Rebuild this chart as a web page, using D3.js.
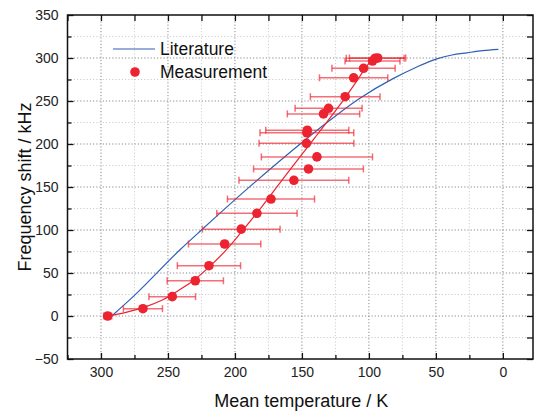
<!DOCTYPE html>
<html>
<head>
<meta charset="utf-8">
<script src="https://cdn.jsdelivr.net/npm/d3@7"></script>
<style>
  body { margin: 0; background: #fff; }
  svg { display: block; font-family: "Liberation Sans", Arial, sans-serif; }
  .grid-major { stroke: #8a8a8a; stroke-width: 1; stroke-dasharray: 1.2,2; }
  .grid-minor { stroke: #cfcfcf; stroke-width: 1; stroke-dasharray: 1.2,2; }
  .tick text { font-size: 14px; fill: #222; }
  .axis path { display: none; }
  .axis line { stroke: #111; stroke-width: 1.3; }
</style>
</head>
<body>
<svg width="534" height="412"></svg>
<script>
// measured points: mean temperature (K), frequency shift (kHz), x error (K)
var tempK = [295, 268.7, 246.8, 229.6, 219.4, 207.7, 195.3, 183.6, 173.1, 156, 145.1, 138.8,
             146.6, 146.3, 146.0, 133.9, 130.1, 117.7, 111.4, 104, 97.3, 95.3, 93.5];
var shiftKHz = [0, 8.5, 22.5, 41, 58.5, 83.7, 101, 119.4, 136, 157.8, 171, 185,
                200.8, 213, 216, 235, 241.5, 255, 277, 288, 296.5, 299.7, 300];
var tempErr = [3, 14.6, 17.4, 21, 23.6, 27, 29, 30, 32.5, 41, 41, 41.5,
               35.4, 35, 31, 27, 25, 26, 25.5, 23.6, 20.5, 21.6, 21];
var shiftErr = 3;

// fit through the measurements (red line)
var fitT = [295, 282, 268, 255, 245, 232, 220, 207, 195, 180, 160, 140, 120, 110, 104, 98, 92];
var fitF = [0, 4, 10, 18, 27, 40, 56, 76, 98, 127, 168, 208, 249, 271, 285, 297, 302];

// literature curve (blue)
var litT = [292, 275, 241, 225, 190, 149, 137, 107, 82, 65, 49.3, 38, 26.9, 15, 3.3];
var litF = [0, 24, 77, 100, 149, 203, 218, 253, 276, 289, 299, 303.5, 306, 308.5, 310];

var xMajor = [300, 250, 200, 150, 100, 50, 0];
var xMinor = [325, 275, 225, 175, 125, 75, 25];
var yMajor = [-50, 0, 50, 100, 150, 200, 250, 300, 350];
var yMinor = [-25, 25, 75, 125, 175, 225, 275, 325];

var svg = d3.select("svg"),
    pLeft = 67.5, pRight = 533, pTop = 15, pBottom = 359,
    red = "#ec2330",
    blue = "#2f5fb3";

var x = d3.scaleLinear().domain([325, -22.5]).range([pLeft, pRight]),
    y = d3.scaleLinear().domain([-50, 350]).range([pBottom, pTop]);

// grid
var grid = svg.append("g");
grid.selectAll(".gxm").data(xMinor.filter(function(d) { return d < 325; })).enter().append("line")
  .attr("class", "grid-minor")
  .attr("x1", x).attr("x2", x).attr("y1", pTop).attr("y2", pBottom);
grid.selectAll(".gym").data(yMinor).enter().append("line")
  .attr("class", "grid-minor")
  .attr("y1", y).attr("y2", y).attr("x1", pLeft).attr("x2", pRight);
grid.selectAll(".gx").data(xMajor).enter().append("line")
  .attr("class", "grid-major")
  .attr("x1", x).attr("x2", x).attr("y1", pTop).attr("y2", pBottom);
grid.selectAll(".gy").data(yMajor.filter(function(d) { return d > -50 && d < 350; })).enter().append("line")
  .attr("class", "grid-major")
  .attr("y1", y).attr("y2", y).attr("x1", pLeft).attr("x2", pRight);

// axes, ticks pointing inward on all four sides
svg.append("g").attr("class", "axis").attr("transform", "translate(0," + pBottom + ")")
  .call(d3.axisBottom(x).tickValues(xMajor).tickSize(-6).tickPadding(8).tickFormat(d3.format("d")));
svg.append("g").attr("class", "axis").attr("transform", "translate(0," + pBottom + ")")
  .call(d3.axisBottom(x).tickValues(xMinor).tickSize(-4).tickFormat(""));
svg.append("g").attr("class", "axis").attr("transform", "translate(0," + pTop + ")")
  .call(d3.axisTop(x).tickValues(xMajor.concat(xMinor)).tickSize(-6).tickFormat(""));
svg.append("g").attr("class", "axis").attr("transform", "translate(" + pLeft + ",0)")
  .call(d3.axisLeft(y).tickValues(yMajor).tickSize(-6).tickPadding(9).tickFormat(d3.format("d")));
svg.append("g").attr("class", "axis").attr("transform", "translate(" + pLeft + ",0)")
  .call(d3.axisLeft(y).tickValues(yMinor).tickSize(-4).tickFormat(""));
svg.append("g").attr("class", "axis").attr("transform", "translate(" + pRight + ",0)")
  .call(d3.axisRight(y).tickValues(yMajor.concat(yMinor)).tickSize(-6).tickFormat(""));

svg.append("rect")
  .attr("x", pLeft).attr("y", pTop).attr("width", pRight - pLeft).attr("height", pBottom - pTop)
  .attr("fill", "none").attr("stroke", "#111").attr("stroke-width", 1.5);

var line = d3.line()
  .x(function(d) { return x(d[0]); })
  .y(function(d) { return y(d[1]); });

// literature curve
svg.append("path")
  .datum(litT.map(function(t, i) { return [t, litF[i]]; }))
  .attr("d", line.curve(d3.curveMonotoneX)).attr("fill", "none").attr("stroke", blue).attr("stroke-width", 1.2);

// fit line
svg.append("path")
  .datum(fitT.map(function(t, i) { return [t, fitF[i]]; }))
  .attr("d", line.curve(d3.curveCatmullRom)).attr("fill", "none").attr("stroke", red).attr("stroke-width", 1.2);

// error bars and points
var points = tempK.map(function(t, i) { return { t: t, f: shiftKHz[i], e: tempErr[i] }; });

var bars = svg.append("g").attr("stroke", red).attr("stroke-opacity", 0.65).attr("stroke-width", 1.5)
  .selectAll("g").data(points).enter().append("g");
bars.append("line")
  .attr("x1", function(d) { return x(d.t + d.e); })
  .attr("x2", function(d) { return x(d.t - d.e); })
  .attr("y1", function(d) { return y(d.f); })
  .attr("y2", function(d) { return y(d.f); });
bars.append("line")
  .attr("x1", function(d) { return x(d.t + d.e); })
  .attr("x2", function(d) { return x(d.t + d.e); })
  .attr("y1", function(d) { return y(d.f) - 3.5; })
  .attr("y2", function(d) { return y(d.f) + 3.5; });
bars.append("line")
  .attr("x1", function(d) { return x(d.t - d.e); })
  .attr("x2", function(d) { return x(d.t - d.e); })
  .attr("y1", function(d) { return y(d.f) - 3.5; })
  .attr("y2", function(d) { return y(d.f) + 3.5; });
bars.append("line")
  .attr("x1", function(d) { return x(d.t); })
  .attr("x2", function(d) { return x(d.t); })
  .attr("y1", function(d) { return y(d.f + shiftErr); })
  .attr("y2", function(d) { return y(d.f - shiftErr); });
bars.append("line")
  .attr("x1", function(d) { return x(d.t) - 3.5; })
  .attr("x2", function(d) { return x(d.t) + 3.5; })
  .attr("y1", function(d) { return y(d.f + shiftErr); })
  .attr("y2", function(d) { return y(d.f + shiftErr); });
bars.append("line")
  .attr("x1", function(d) { return x(d.t) - 3.5; })
  .attr("x2", function(d) { return x(d.t) + 3.5; })
  .attr("y1", function(d) { return y(d.f - shiftErr); })
  .attr("y2", function(d) { return y(d.f - shiftErr); });

svg.append("g").selectAll("circle").data(points).enter().append("circle")
  .attr("cx", function(d) { return x(d.t); })
  .attr("cy", function(d) { return y(d.f); })
  .attr("r", 4.8)
  .attr("fill", red);

// legend
var legend = svg.append("g");
legend.append("line").attr("x1", 113).attr("x2", 155).attr("y1", 49).attr("y2", 49)
  .attr("stroke", blue).attr("stroke-width", 1.2);
legend.append("text").attr("x", 160).attr("y", 55).attr("font-size", 17.5).attr("fill", "#111").text("Literature");
legend.append("circle").attr("cx", 135).attr("cy", 72).attr("r", 4.8).attr("fill", red);
legend.append("text").attr("x", 160).attr("y", 78).attr("font-size", 17.5).attr("fill", "#111").text("Measurement");

// axis titles
svg.append("text")
  .attr("x", (pLeft + pRight) / 2 + 1).attr("y", 407)
  .attr("text-anchor", "middle").attr("font-size", 18).attr("fill", "#111")
  .text("Mean temperature / K");
svg.append("text")
  .attr("transform", "translate(31," + ((pTop + pBottom) / 2) + ") rotate(-90)")
  .attr("text-anchor", "middle").attr("font-size", 18).attr("fill", "#111")
  .text("Frequency shift / kHz");
</script>
</body>
</html>
